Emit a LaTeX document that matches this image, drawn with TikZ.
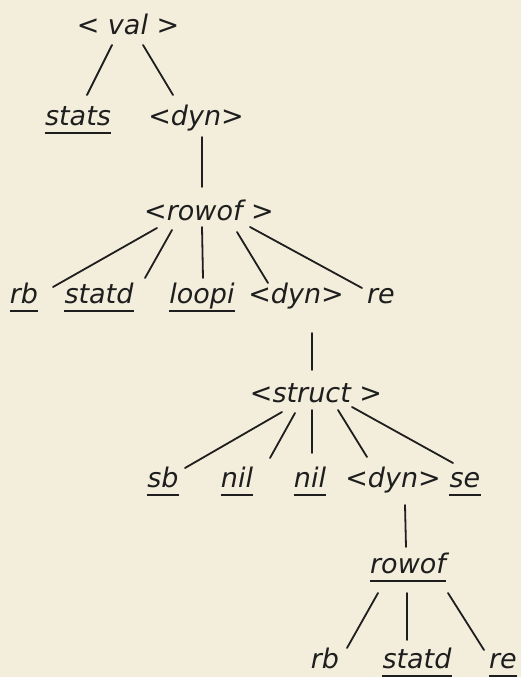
\documentclass[tikz,border=0pt]{standalone}
\usepackage{fontspec}
\setmainfont{DejaVu Sans}
\usepackage{xcolor}
\definecolor{treeink}{HTML}{1E1E1E}
\definecolor{treepaper}{HTML}{F3EEDC}
\usetikzlibrary{calc,backgrounds}

\begin{document}
\begin{tikzpicture}[
  x=1pt, y=-1pt,
  font=\fontsize{27}{32}\selectfont\itshape,
  sym/.style={anchor=base, inner sep=0pt, text=treeink},
  uline/.style={draw=treeink, line width=1.8pt},
  term/.style={sym, append after command={
      ([yshift=-8pt]\tikzlastnode.base west) edge[uline] ([yshift=-8pt]\tikzlastnode.base east)}},
  branch/.style={draw=treeink, line width=1.8pt, line cap=round},
]
% ---------- paper
\fill[treepaper] (0,0) rectangle (521,677);
\useasboundingbox (0,0) rectangle (521,677);

% ---------- level 0 and 1
\node[sym]  (val)    at (128,35)  {< val >};
\node[term] (stats)  at (78,125)  {stats};
\node[sym]  (dyna)   at (196,125) {<dyn>};
\draw[branch] ($(val.base)+(-16,10)$) -- ($(stats.base)+(9,-30)$);
\draw[branch] ($(val.base)+(15,10)$)  -- ($(dyna.base)+(-23,-30)$);

% ---------- first row
\node[sym]  (rowa)   at (209,220) {<rowof >};
\draw[branch] ($(dyna.base)+(6,12)$) -- ($(rowa.base)+(-7,-33)$);
\node[term] (rba)    at (24,303)  {rb};
\node[term] (statda) at (99,303)  {statd};
\node[term] (loopi)  at (202,303) {loopi};
\node[sym]  (dynb)   at (296,303) {<dyn>};
\node[sym]  (rea)    at (381,303) {re};
\draw[branch] ($(rowa.base)+(-52,8)$) -- ($(rba.base)+(29,-16)$);
\draw[branch] ($(rowa.base)+(-37,10)$) -- ($(statda.base)+(46,-25)$);
\draw[branch] ($(rowa.base)+(-7,7)$)   -- ($(loopi.base)+(1,-25)$);
\draw[branch] ($(rowa.base)+(28,12)$)  -- ($(dynb.base)+(-28,-20)$);
\draw[branch] ($(rowa.base)+(41,7)$)   -- ($(rea.base)+(-19,-15)$);

% ---------- the struct
\node[sym]  (struct) at (316,402) {<struct >};
\draw[branch] ($(dynb.base)+(16,30)$) -- ($(struct.base)+(-4,-32)$);
\node[term] (sb)     at (163,487) {sb};
\node[term] (nila)   at (237,487) {nil};
\node[term] (nilb)   at (310,487) {nil};
\node[sym]  (dync)   at (393,487) {<dyn>};
\node[term] (se)     at (465,487) {se};
\draw[branch] ($(struct.base)+(-34,10)$) -- ($(sb.base)+(22,-19)$);
\draw[branch] ($(struct.base)+(-21,11)$) -- ($(nila.base)+(33,-29)$);
\draw[branch] ($(struct.base)+(-4,8)$)   -- ($(nilb.base)+(2,-34)$);
\draw[branch] ($(struct.base)+(22,8)$)   -- ($(dync.base)+(-26,-30)$);
\draw[branch] ($(struct.base)+(36,5)$)   -- ($(se.base)+(-12,-24)$);

% ---------- second row
\node[term] (rowb)   at (408,573) {rowof};
\draw[branch] ($(dync.base)+(12,18)$) -- ($(rowb.base)+(-2,-26)$);
\node[sym]  (rbb)    at (325,668) {rb};
\node[term] (statdb) at (417,668) {statd};
\node[term] (reb)    at (503,668) {re};
\draw[branch] ($(rowb.base)+(-30,20)$) -- ($(rbb.base)+(22,-20)$);
\draw[branch] ($(rowb.base)+(-1,20)$)  -- ($(statdb.base)+(-10,-28)$);
\draw[branch] ($(rowb.base)+(40,20)$)  -- ($(reb.base)+(-19,-18)$);
\end{tikzpicture}
\end{document}
